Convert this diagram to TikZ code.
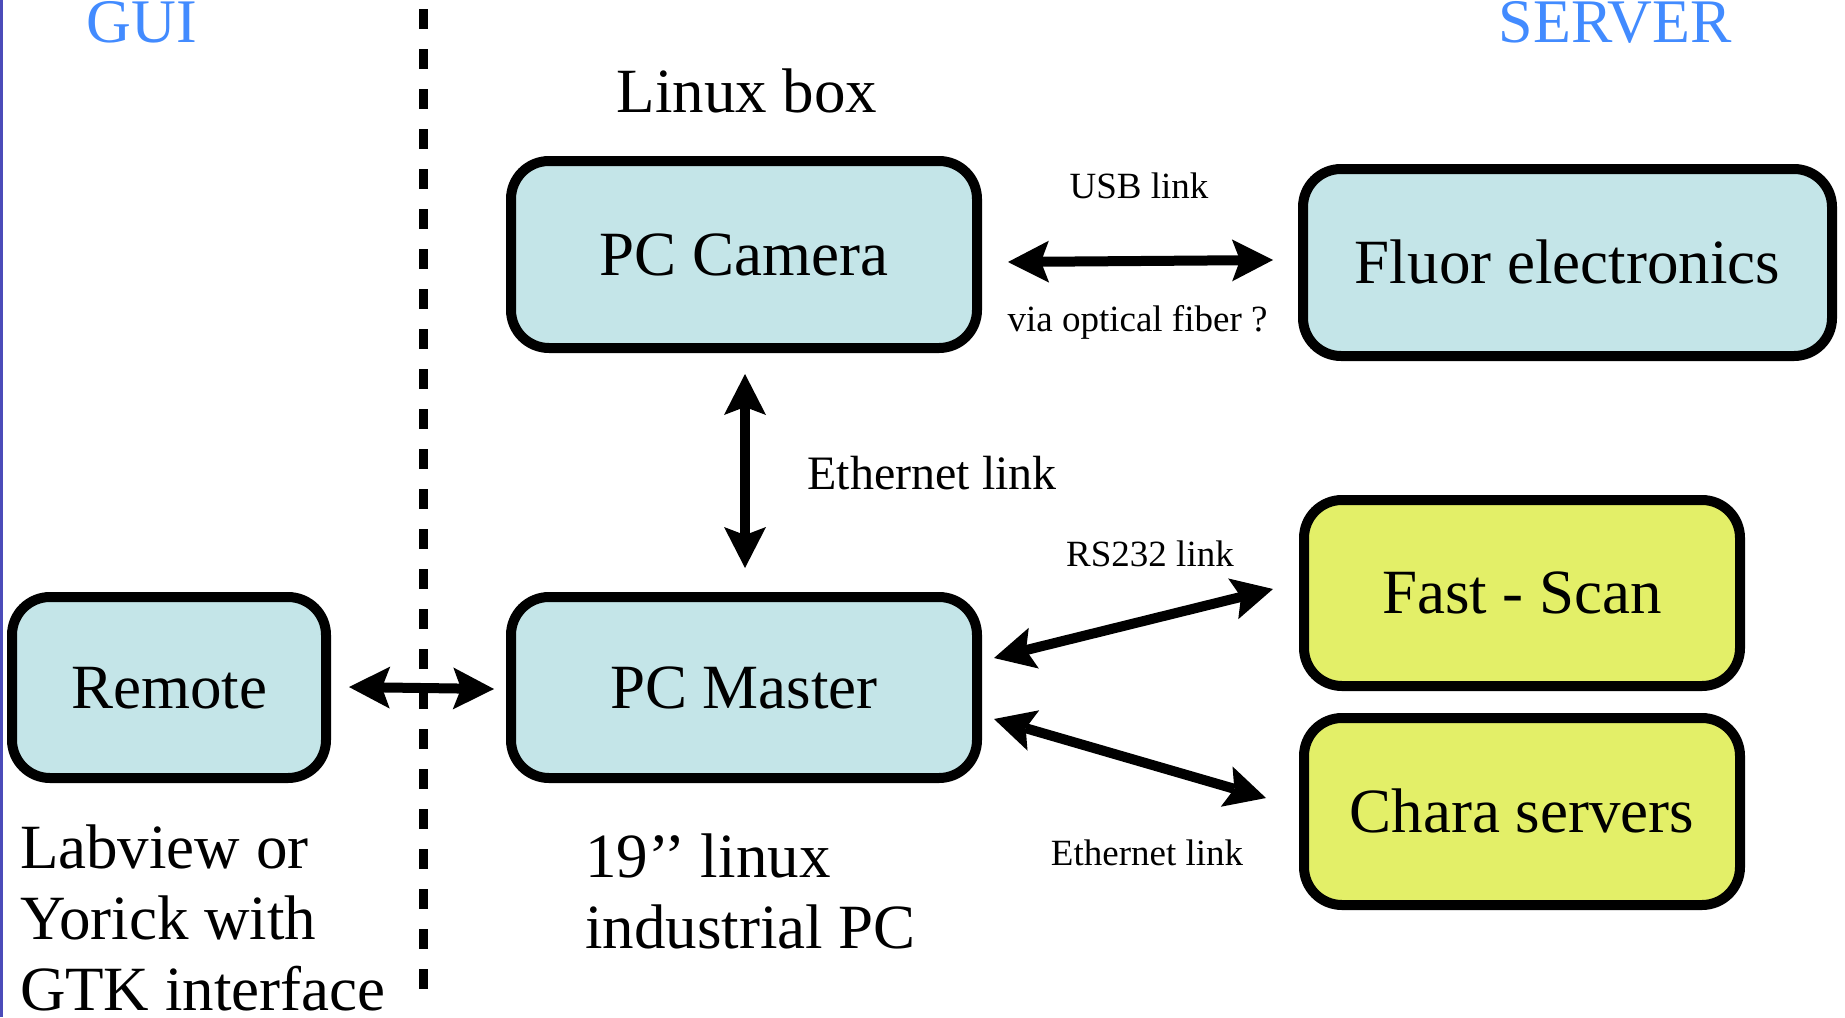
\documentclass[tikz,border=0pt]{standalone}
\usepackage{fontspec}
\setmainfont{Liberation Serif}
\usetikzlibrary{arrows.meta,calc}

\definecolor{boxblue}{RGB}{196,229,232}
\definecolor{boxyellow}{RGB}{227,239,104}
\definecolor{headblue}{RGB}{66,139,255}
\definecolor{edgeblue}{RGB}{75,75,185}

\newcommand\bigtxt{\fontsize{31.5}{37}\selectfont}
\newcommand\midtxt{\fontsize{24}{29}\selectfont}
\newcommand\smalltxt{\fontsize{18.5}{22}\selectfont}
\newcommand\headtxt{\fontsize{31}{37}\selectfont}

\begin{document}
\begin{tikzpicture}[x=0.5pt,y=-0.5pt,
  unitbox/.style={rectangle, draw=black, line width=5pt, rounded corners=19pt,
    inner sep=0pt, outer sep=0pt, font=\bigtxt, text height=20.85pt, text depth=0pt},
  bluebox/.style={unitbox, fill=boxblue},
  yellowbox/.style={unitbox, fill=boxyellow},
  link/.style={line width=5pt, {Stealth[length=20.5pt,width=21pt,inset=4pt,line width=0pt]}-{Stealth[length=20.5pt,width=21pt,inset=4pt,line width=0pt]}},
  divider/.style={line width=4.85pt, dash pattern=on 10pt off 10pt},
  label/.style={inner sep=0pt, outer sep=0pt},
  headlabel/.style={label, font=\headtxt, text=headblue}]

% canvas
\useasboundingbox (0,0) rectangle (1845,1017);
\fill[white] (0,0) rectangle (1845,1017);
\fill[edgeblue] (0,0) rectangle (2.5,1017);

% section headings
\node[headlabel, anchor=base] (gui) at (142,42) {GUI};
\node[headlabel, anchor=base] (server) at (1615,42) {SERVER};

% GUI / server divider
\coordinate (divtop) at (423.5,9);
\coordinate (divbot) at (423.5,989);
\draw[divider] (divtop) -- (divbot);

% units
\node[bluebox, minimum width=233pt, minimum height=93.5pt] (cam) at (744,254.5) {PC Camera};
\node[bluebox, minimum width=264.5pt, minimum height=93.5pt] (fluor) at (1567.5,262.5) {Fluor electronics};
\node[bluebox, minimum width=157pt, minimum height=90.5pt] (remote) at (169,687.5) {Remote};
\node[bluebox, minimum width=233pt, minimum height=90.5pt] (master) at (744,687.5) {PC Master};
\node[yellowbox, minimum width=218pt, minimum height=93pt] (fast) at (1522,593) {Fast - Scan};
\node[yellowbox, minimum width=218pt, minimum height=93.5pt] (chara) at (1522,811.5) {Chara servers};

% links
\draw[link] ($(cam.east)+(31,7.5)$) -- ($(fluor.west)+(-30,-2.5)$);
\draw[link] ($(cam.south)+(1,26)$) -- ($(master.north)+(1,-29)$);
\draw[link] ($(remote.east)+(23,-0.5)$) -- ($(master.west)+(-17,1.5)$);
\draw[link] ($(master.east)+(17,-29.5)$) -- ($(fast.west)+(-31,-4)$);
\draw[link] ($(master.east)+(17,31.5)$) -- ($(chara.west)+(-38,-13.5)$);

% captions
\node[label, anchor=base, font=\bigtxt] (linuxbox) at (747,112) {Linux box};
\node[label, anchor=base, font=\smalltxt] (usb) at (1139,198) {USB link};
\node[label, anchor=base, font=\smalltxt] (fiber) at (1137.5,331.5) {via optical fiber ?};
\node[label, anchor=base, font=\midtxt] (eth1) at (932,489.5) {Ethernet link};
\node[label, anchor=base, font=\smalltxt] (rs232) at (1150,566.5) {RS232 link};
\node[label, anchor=base, font=\smalltxt] (eth2) at (1147,865) {Ethernet link};

\node[label, anchor=base west, font=\bigtxt] (gui1) at (20,868) {Labview or};
\node[label, anchor=base west, font=\bigtxt] (gui2) at (20,939) {Yorick with};
\node[label, anchor=base west, font=\bigtxt] (gui3) at (20,1010) {GTK interface};

\node[label, anchor=base west, font=\bigtxt] (pc1) at (585,877) {19’’ linux};
\node[label, anchor=base west, font=\bigtxt] (pc2) at (585,948) {industrial PC};
\end{tikzpicture}
\end{document}
